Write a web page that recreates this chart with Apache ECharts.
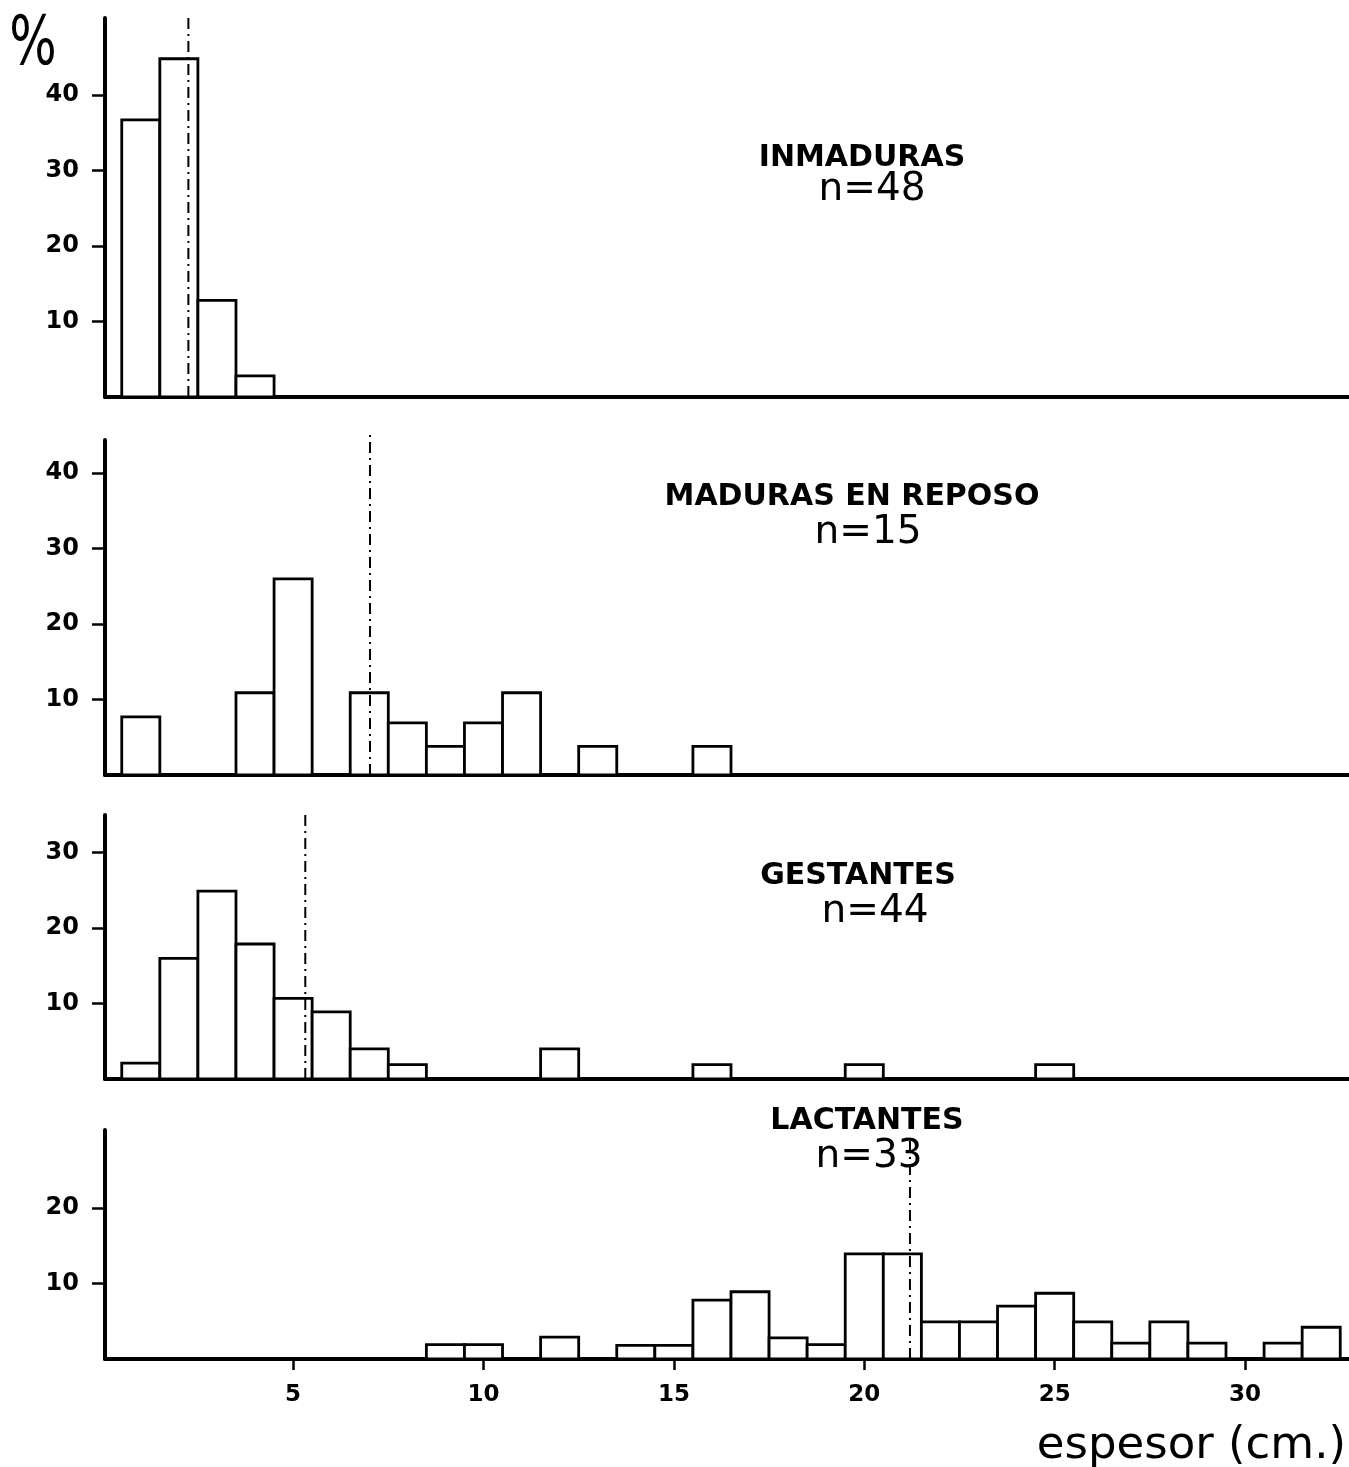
<!DOCTYPE html>
<html>
<head>
<meta charset="utf-8">
<script src="https://cdn.jsdelivr.net/npm/echarts@6/dist/echarts.min.js"></script>
<style>
html,body{margin:0;padding:0;background:#fff;}
#chart{width:1349px;height:1467px;}
</style>
</head>
<body>
<div id="chart"></div>
<script>
// ---- data ----
const xTickLabels = [5, 10, 15, 20, 25, 30];

const binsInmaduras = [1, 2, 3, 4];
const pctInmaduras  = [36.7, 44.8, 12.8, 2.8];
const meanInmaduras = 2.25;
const ticksInmaduras = [10, 20, 30, 40];

const binsReposo = [1, 4, 5, 7, 8, 9, 10, 11, 13, 16];
const pctReposo  = [7.7, 10.9, 26.0, 10.9, 6.9, 3.8, 6.9, 10.9, 3.8, 3.8];
const meanReposo = 7.02;
const ticksReposo = [10, 20, 30, 40];

const binsGestantes = [1, 2, 3, 4, 5, 6, 7, 8, 12, 16, 20, 25];
const pctGestantes  = [2.1, 16.0, 24.9, 17.9, 10.7, 8.9, 4.0, 1.9, 4.0, 1.9, 1.9, 1.9];
const meanGestantes = 5.32;
const ticksGestantes = [10, 20, 30];

const binsLactantes = [9, 10, 12, 14, 15, 16, 17, 18, 19, 20, 21, 22, 23, 24, 25, 26, 27, 28, 29, 31, 32];
const pctLactantes  = [1.9, 1.9, 2.9, 1.8, 1.8, 7.8, 8.9, 2.8, 1.9, 13.9, 13.9, 4.9, 4.9, 7.0, 8.7, 4.9, 2.1, 4.9, 2.1, 2.1, 4.2];
const meanLactantes = 21.2;
const ticksLactantes = [10, 20];

const titles = ['INMADURAS', 'MADURAS EN REPOSO', 'GESTANTES', 'LACTANTES'];
const counts = ['n=48', 'n=15', 'n=44', 'n=33'];

// ---- layout ----
const X_MIN = 0.06, X_MAX = 32.73;
const panels = [
  {bins: binsInmaduras, pct: pctInmaduras, mean: meanInmaduras, ticks: ticksInmaduras, top: 18, height: 379, ymax: 50.2, meanTop: 50.6},
  {bins: binsReposo, pct: pctReposo, mean: meanReposo, ticks: ticksReposo, top: 440, height: 335, ymax: 44.4, meanTop: 45.2},
  {bins: binsGestantes, pct: pctGestantes, mean: meanGestantes, ticks: ticksGestantes, top: 815, height: 264, ymax: 35.0, meanTop: 35.3},
  {bins: binsLactantes, pct: pctLactantes, mean: meanLactantes, ticks: ticksLactantes, top: 1130, height: 229, ymax: 30.3, meanTop: 29.0}
];
const titlePos = [
  {tx: 862, ty: 158, nx: 872, ny: 190},
  {tx: 852, ty: 497, nx: 868, ny: 533},
  {tx: 858, ty: 876, nx: 875, ny: 912},
  {tx: 867, ty: 1121, nx: 869, ny: 1157}
];

const grids = [], xAxes = [], yAxes = [], series = [], graphics = [];

panels.forEach((p, i) => {
  const last = i === panels.length - 1;
  grids.push({left: 105, width: 1244, top: p.top, height: p.height, containLabel: false});
  xAxes.push({
    type: 'value', gridIndex: i, min: X_MIN, max: X_MAX,
    splitLine: {show: false},
    axisLine: {show: true, lineStyle: {color: '#000', width: 4}},
    axisTick: {show: last, customValues: xTickLabels, length: 11, lineStyle: {color: '#000', width: 2.5}},
    axisLabel: {show: last, customValues: xTickLabels, margin: 25, color: '#000',
      fontFamily: 'DejaVu Sans', fontWeight: 'bold', fontSize: 23}
  });
  yAxes.push({
    type: 'value', gridIndex: i, min: 0, max: p.ymax, interval: 10,
    splitLine: {show: false},
    axisLine: {show: true, lineStyle: {color: '#000', width: 4}},
    axisTick: {show: true, customValues: p.ticks, length: 13, lineStyle: {color: '#000', width: 2.5}},
    axisLabel: {show: true, customValues: p.ticks, margin: 26, color: '#000',
      fontFamily: 'DejaVu Sans', fontWeight: 'bold', fontSize: 24}
  });
  series.push({
    type: 'custom', xAxisIndex: i, yAxisIndex: i, z: 2,
    data: p.bins.map((b, k) => [b, p.pct[k]]),
    renderItem: function (params, api) {
      const x = api.value(0), y = api.value(1);
      const a = api.coord([x - 0.5, y]);
      const b = api.coord([x + 0.5, 0]);
      return {
        type: 'rect',
        shape: {x: a[0], y: a[1], width: b[0] - a[0], height: b[1] - a[1]},
        style: {fill: '#fff', stroke: '#000', lineWidth: 2.8}
      };
    }
  });
  series.push({
    type: 'line', xAxisIndex: i, yAxisIndex: i, z: 5,
    data: [[p.mean, 0], [p.mean, p.meanTop]],
    symbol: 'none', clip: false,
    lineStyle: {color: '#000', width: 2, type: [11, 5, 2, 5]}
  });
  const tp = titlePos[i];
  graphics.push({
    type: 'text', x: tp.tx, y: tp.ty, z: 10,
    style: {text: titles[i], fill: '#000', font: 'bold 30px "DejaVu Sans"', textAlign: 'center', textVerticalAlign: 'middle'}
  });
  graphics.push({
    type: 'text', x: tp.nx, y: tp.ny, z: 10,
    style: {text: counts[i], fill: '#000', font: '39px "DejaVu Sans"', textAlign: 'center', textVerticalAlign: 'middle'}
  });
});

graphics.push({
  type: 'text', x: 33, y: 47, scaleX: 0.78, scaleY: 1.05,
  style: {text: '%', fill: '#000', font: '64px "DejaVu Sans"', textAlign: 'center', textVerticalAlign: 'middle'}
});
graphics.push({
  type: 'text', x: 1346, y: 1446,
  style: {text: 'espesor (cm.)', fill: '#000', font: '45px "DejaVu Sans"', textAlign: 'right', textVerticalAlign: 'middle'}
});

const chart = echarts.init(document.getElementById('chart'), null, {renderer: 'canvas'});
chart.setOption({
  animation: false,
  backgroundColor: '#fff',
  grid: grids,
  xAxis: xAxes,
  yAxis: yAxes,
  series: series,
  graphic: graphics
});
</script>
</body>
</html>
